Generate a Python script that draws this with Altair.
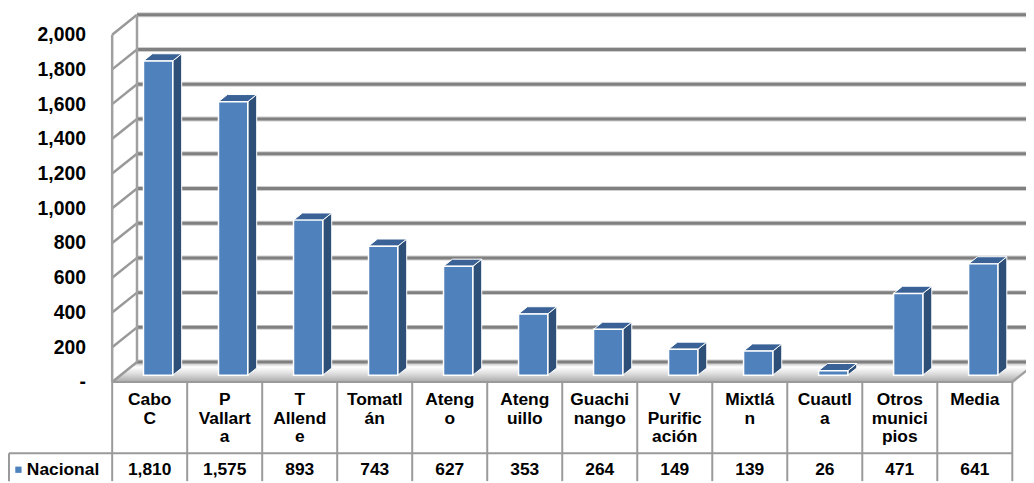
import altair as alt
import pandas as pd

# ---------------- data ----------------
labels = ["Cabo\nC", "P\nVallart\na", "T\nAllend\ne", "Tomatl\nán", "Ateng\no",
          "Ateng\nuillo", "Guachi\nnango", "V\nPurific\nación", "Mixtlá\nn",
          "Cuautl\na", "Otros\nmunici\npios", "Media"]
values = [1810, 1575, 893, 743, 627, 353, 264, 149, 139, 26, 471, 641]
series_name = "Nacional"
y_ticks = [0, 200, 400, 600, 800, 1000, 1200, 1400, 1600, 1800, 2000]

# ---------------- layout ----------------
W, H = 1026, 475
COLW = 75.6          # table column width (px)
X0PX = 105           # table left edge (px)
PXU = 0.175          # px per value unit
ZERO_PX = 375        # front-plane zero (px)
N = len(values)
x_dom = [-X0PX / COLW, (W - X0PX) / COLW]
y_dom = [-(H - ZERO_PX) / PXU, ZERO_PX / PXU]
DX = 25 / COLW       # wall depth (x units)
DY = 20 / PXU        # wall depth (value units)
F0, F1 = 0.34, 0.70  # bar depth range
HW = 14.75 / COLW    # half bar width
FONT = "Liberation Sans"

xs = alt.Scale(domain=x_dom, nice=False, zero=False)
ys = alt.Scale(domain=y_dom, nice=False, zero=False)
yaxis = alt.Axis(values=y_ticks, format=",.0f",
                 labelExpr="datum.value == 0 ? '-\u00a0\u00a0' : datum.label",
                 domain=False, ticks=False, tickSize=0, labelPadding=0, offset=-78,
                 labelFont=FONT, labelFontSize=19.5, labelFontWeight="bold",
                 labelColor="black", grid=False, title=None,
                 labelFlush=False, labelOverlap=False)


def X(f="x"):
    return alt.X(f"{f}:Q", scale=xs, axis=None)


def Y(f="y"):
    return alt.Y(f"{f}:Q", scale=ys, axis=yaxis, stack=None)


# ---------------- geometry from data ----------------
front, side, top = [], [], []
ddx, ddy = (F1 - F0) * DX, (F1 - F0) * DY
for i, v in enumerate(values):
    c = i + 0.5 + F0 * DX
    xl, xr = c - HW, c + HW
    b = F0 * DY
    t = b + v
    front.append(dict(bar=i, x=xl, x2=xr, y=b, y2=t))
    side += [dict(bar=i, k=0, x=xr, y=b, y2=t),
             dict(bar=i, k=1, x=xr + ddx, y=b + ddy, y2=t + ddy)]
    top += [dict(bar=i, k=0, x=xl, y=t, y2=t),
            dict(bar=i, k=1, x=xl + ddx, y=t, y2=t + ddy),
            dict(bar=i, k=2, x=xr, y=t, y2=t + ddy),
            dict(bar=i, k=3, x=xr + ddx, y=t + ddy, y2=t + ddy)]
front, side, top = pd.DataFrame(front), pd.DataFrame(side), pd.DataFrame(top)

floor = pd.DataFrame([dict(k=0, x=0, y=0, y2=0), dict(k=1, x=DX, y=0, y2=DY),
                      dict(k=2, x=N, y=0, y2=DY), dict(k=3, x=N + DX, y=DY, y2=DY)])

back_grid = pd.DataFrame([dict(x=DX, x2=N + DX + 1, y=t + DY, y2=t + DY) for t in y_ticks])
side_grid = pd.DataFrame([dict(x=0, x2=DX, y=t, y2=t + DY) for t in y_ticks])
wall_edges = pd.DataFrame([dict(x=0, x2=0, y=0, y2=max(y_ticks)),
                           dict(x=DX, x2=DX, y=DY, y2=DY + max(y_ticks)),
                           dict(x=N, x2=N + DX, y=0, y2=DY)])

R1 = -(455 - 383) / PXU
uL = -(X0PX - 1) / COLW
tbl = [dict(x=0, x2=N, y=0, y2=0), dict(x=uL, x2=N, y=R1, y2=R1),
       dict(x=uL, x2=uL, y=R1, y2=y_dom[0])]
tbl += [dict(x=j, x2=j, y=0, y2=y_dom[0]) for j in range(N + 1)]
tbl = pd.DataFrame(tbl)

HDR0 = -(401.5 - 383) / PXU
LSTEP = 18.6 / PXU
hdr = []
for i, lab in enumerate(labels):
    for k, line in enumerate(lab.split("\n")):
        hdr.append(dict(x=i + 0.5, y=HDR0 - k * LSTEP, text=line))
hdr = pd.DataFrame(hdr)

VAL_Y = -(471.5 - 383) / PXU
vals = pd.DataFrame(dict(x=[i + 0.5 for i in range(N)], y=[VAL_Y] * N, v=values))
leg = pd.DataFrame([dict(x=-(X0PX - 10.5) / COLW, xt=-(X0PX - 19) / COLW, y=VAL_Y, name=series_name)])

# ---------------- layers ----------------
floor_l = alt.Chart(floor).mark_area(
    orient="vertical",
    fill=alt.Gradient(gradient="linear", x1=0, y1=0, x2=0, y2=1,
                      stops=[alt.GradientStop(offset=0, color="#bdbdbd"),
                             alt.GradientStop(offset=0.25, color="#ffffff"),
                             alt.GradientStop(offset=0.6, color="#dcdcdc"),
                             alt.GradientStop(offset=1, color="#a9a9a9")]),
    fillOpacity=1
).encode(x=X(), y=Y(), y2="y2:Q")

grid_halo = alt.Chart(back_grid).mark_rule(color="#cfcfcf", strokeWidth=5).encode(
    x=X(), x2="x2:Q", y=Y(), y2="y2:Q")
grid_core = alt.Chart(back_grid).mark_rule(color="#808080", strokeWidth=3).encode(
    x=X(), x2="x2:Q", y=Y(), y2="y2:Q")
side_l = alt.Chart(side_grid).mark_rule(color="#999999", strokeWidth=2.5).encode(
    x=X(), x2="x2:Q", y=Y(), y2="y2:Q")
edges_l = alt.Chart(wall_edges).mark_rule(color="#a0a0a0", strokeWidth=2.5).encode(
    x=X(), x2="x2:Q", y=Y(), y2="y2:Q")

side_face = alt.Chart(side).mark_area(orient="vertical", color="#2d4f78",
                                      stroke="white", strokeWidth=1).encode(
    x=X(), y=Y(), y2="y2:Q", detail="bar:N")
top_face = alt.Chart(top).mark_area(orient="vertical", color="#3a6296",
                                    stroke="white", strokeWidth=1).encode(
    x=X(), y=Y(), y2="y2:Q", detail="bar:N")
front_face = alt.Chart(front).mark_rect(color="#4f81bd", stroke="white",
                                        strokeWidth=1.5).encode(
    x=X(), x2="x2:Q", y=Y(), y2="y2:Q")

tbl_l = alt.Chart(tbl).mark_rule(color="#9a9a9a", strokeWidth=2).encode(
    x=X(), x2="x2:Q", y=Y(), y2="y2:Q")

hdr_l = alt.Chart(hdr).mark_text(font=FONT, fontSize=17.5, fontWeight="bold",
                                 color="black", baseline="middle", align="center").encode(
    x=X(), y=Y(), text="text:N")
vals_l = alt.Chart(vals).mark_text(font=FONT, fontSize=17.5, fontWeight="bold",
                                   color="black", baseline="middle", align="center").encode(
    x=X(), y=Y(), text=alt.Text("v:Q", format=","))
leg_sq = alt.Chart(leg).mark_square(color="#4f81bd", size=40, opacity=1).encode(
    x=X(), y=Y())
leg_tx = alt.Chart(leg).mark_text(font=FONT, fontSize=17.5, fontWeight="bold",
                                  color="black", baseline="middle", align="left").encode(
    x=X("xt"), y=Y(), text="name:N")

chart = alt.layer(floor_l, grid_halo, grid_core, side_l, edges_l,
                  side_face, top_face, front_face, tbl_l, hdr_l, vals_l,
                  leg_sq, leg_tx).properties(
    width=W, height=H, autosize=alt.AutoSizeParams(type="none"),
    padding=0
).configure_view(stroke=None)

chart.save("out.html", embed_options={"renderer": "svg", "actions": False})
